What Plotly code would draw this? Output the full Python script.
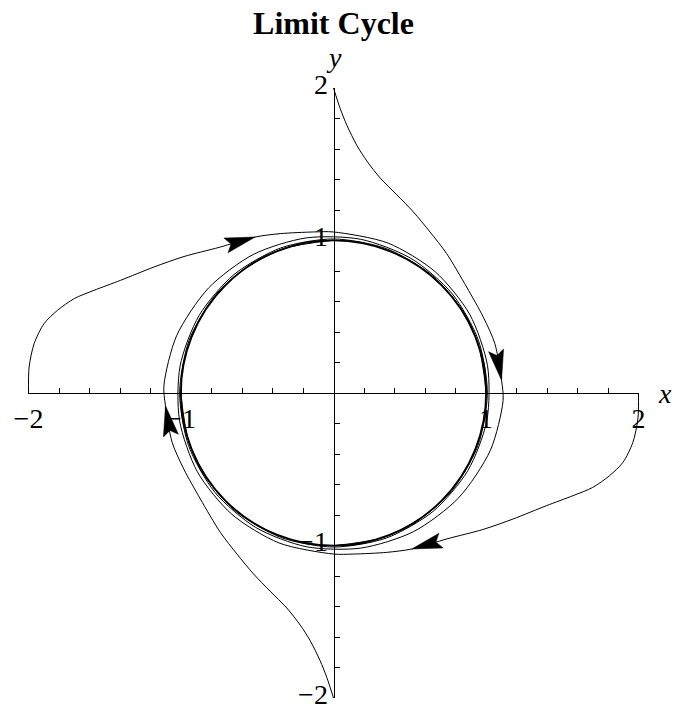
import numpy as np
import plotly.graph_objects as go

# Phase-plane trajectories (x, y), each spiralling clockwise onto the unit limit cycle
traj_top_x = [0.0, 0.044, 0.088, 0.153, 0.218, 0.306, 0.415, 0.524, 0.633, 0.742, 0.873, 0.982,
              1.058, 1.102, 1.112, 1.029, 0.820, 0.525, 0.179, -0.178, -0.509, -0.777, -0.950,
              -1.009, -0.947, -0.771, -0.503, -0.175, 0.174, 0.502, 0.768, 0.942, 1.002]
traj_top_y = [2.0, 1.865, 1.755, 1.624, 1.522, 1.410, 1.300, 1.187, 1.056, 0.914, 0.695, 0.498,
              0.324, 0.083, -0.05, -0.375, -0.688, -0.909, -1.017, -1.008, -0.882, -0.652, -0.346,
              0.0, 0.345, 0.647, 0.871, 0.990, 0.989, 0.869, 0.645, 0.343, 0.0]

traj_left_x = [-2.0, -1.996, -1.963, -1.898, -1.81, -1.70, -1.571, -1.396, -1.178, -0.98, -0.75,
               -0.513, -0.349, -0.131, 0.0, 0.358, 0.667, 0.893, 1.010, 1.006, 0.881, 0.652, 0.346,
               0.0, -0.345, -0.647, -0.871, -0.990, -0.989, -0.869, -0.645, -0.343, 0.0]
traj_left_y = [0.0, 0.17, 0.324, 0.455, 0.542, 0.619, 0.673, 0.739, 0.826, 0.895, 0.955,
               1.023, 1.045, 1.056, 1.056, 0.983, 0.795, 0.516, 0.178, -0.177, -0.509, -0.777, -0.951,
               -1.010, -0.947, -0.771, -0.503, -0.175, 0.174, 0.502, 0.768, 0.942, 1.002]

traj_right_x = [2.0, 1.996, 1.963, 1.898, 1.81, 1.70, 1.571, 1.396, 1.178, 0.98, 0.75,
                0.513, 0.349, 0.131, 0.0, -0.358, -0.667, -0.893, -1.010, -1.006, -0.881, -0.652, -0.346,
                0.0, 0.345, 0.647, 0.871, 0.990, 0.989, 0.869, 0.645, 0.343, 0.0]
traj_right_y = [0.0, -0.17, -0.324, -0.455, -0.542, -0.619, -0.673, -0.739, -0.826, -0.895, -0.955,
                -1.023, -1.045, -1.056, -1.056, -0.983, -0.795, -0.516, -0.178, 0.177, 0.509, 0.777, 0.951,
                1.010, 0.947, 0.771, 0.503, 0.175, -0.174, -0.502, -0.768, -0.942, -1.002]

traj_bottom_x = [0.0, -0.044, -0.088, -0.153, -0.218, -0.306, -0.415, -0.524, -0.633, -0.742, -0.873, -0.982,
                 -1.058, -1.102, -1.112, -1.029, -0.820, -0.525, -0.179, 0.178, 0.509, 0.777, 0.950,
                 1.009, 0.947, 0.771, 0.503, 0.175, -0.174, -0.502, -0.768, -0.942, -1.002]
traj_bottom_y = [-2.0, -1.865, -1.755, -1.624, -1.522, -1.410, -1.300, -1.187, -1.056, -0.914, -0.695, -0.498,
                 -0.324, -0.083, 0.05, 0.375, 0.688, 0.909, 1.017, 1.008, 0.882, 0.652, 0.346,
                 0.0, -0.345, -0.647, -0.871, -0.990, -0.989, -0.869, -0.645, -0.343, 0.0]

# Arrowhead tips (on each trajectory), showing the direction of motion
arrow_tip_x = [1.102, -0.513, 0.513, -1.102]
arrow_tip_y = [0.083, 1.023, -1.023, -0.083]

limit_cycle_radius = 1.0

axis_range = [-2, 2]
tick_vals = [-2, -1, 1, 2]
tick_text = ["\u22122", "\u22121", "1", "2"]
minor_vals = [round(v, 1) for v in np.arange(-2.0, 2.001, 0.2) if abs(v) > 1e-9]

SERIF = "Liberation Serif"

trajectories = [
    (traj_top_x, traj_top_y),
    (traj_left_x, traj_left_y),
    (traj_right_x, traj_right_y),
    (traj_bottom_x, traj_bottom_y),
]

fig = go.Figure()

for tx, ty in trajectories:
    fig.add_trace(go.Scatter(
        x=tx, y=ty, mode="lines",
        line=dict(color="black", width=1, shape="spline", smoothing=0.8),
        hoverinfo="skip", showlegend=False,
    ))


def arrow_polygon(tx, ty, tip, length=0.2, half_w=0.05, notch=0.035):
    pts = np.column_stack([tx, ty])
    tip = np.asarray(tip, dtype=float)
    i = int(np.argmin(np.hypot(pts[:, 0] - tip[0], pts[:, 1] - tip[1])))
    d = pts[i] - pts[max(i - 1, 0)]
    d = d / np.hypot(*d)
    n = np.array([-d[1], d[0]])
    base = tip - d * length
    p1 = base + n * half_w
    p3 = base - n * half_w
    pn = base + d * notch
    poly = np.array([p1, tip, p3, pn, p1])
    return poly[:, 0], poly[:, 1]


for (tx, ty), ax_, ay_ in zip(trajectories, arrow_tip_x, arrow_tip_y):
    px, py = arrow_polygon(tx, ty, (ax_, ay_))
    fig.add_trace(go.Scatter(
        x=px, y=py, mode="lines", fill="toself", fillcolor="black",
        line=dict(color="black", width=0.5),
        hoverinfo="skip", showlegend=False,
    ))

# The limit cycle itself
fig.add_shape(
    type="circle", xref="x", yref="y",
    x0=-limit_cycle_radius, y0=-limit_cycle_radius,
    x1=limit_cycle_radius, y1=limit_cycle_radius,
    line=dict(color="black", width=1.6),
)

axis_common = dict(
    range=axis_range,
    tickmode="array", tickvals=tick_vals, ticktext=tick_text,
    ticks="inside", ticklen=8, tickwidth=1, tickcolor="black",
    minor=dict(tickvals=minor_vals, ticks="inside", ticklen=5, tickwidth=1, tickcolor="black"),
    showline=True, linecolor="black", linewidth=1,
    showgrid=False, zeroline=False,
    tickfont=dict(family=SERIF, size=28, color="black"),
    ticklabeloverflow="allow",
    automargin=False,
    anchor="free", position=0.5,
    fixedrange=True,
)

fig.update_layout(
    width=675, height=707,
    margin=dict(l=28, r=36, t=88, b=9, autoexpand=False),
    paper_bgcolor="white", plot_bgcolor="white",
    title=dict(
        text="<b>Limit Cycle</b>",
        font=dict(family=SERIF, size=32, color="black"),
        x=0.5, xref="paper", xanchor="center",
        y=1 - 23 / 707, yref="container", yanchor="middle",
        automargin=False,
    ),
    xaxis=dict(**axis_common, side="bottom"),
    yaxis=dict(**axis_common, side="left", ticklabelshift=-4,
               scaleanchor="x", scaleratio=1),
    annotations=[
        dict(text="<i>x</i>", x=axis_range[1], y=0, xref="x", yref="y",
             xanchor="left", yanchor="middle", xshift=17, showarrow=False,
             font=dict(family=SERIF, size=28, color="black")),
        dict(text="<i>y</i>", x=0, y=axis_range[1], xref="x", yref="y",
             xanchor="center", yanchor="bottom", yshift=13, showarrow=False,
             font=dict(family=SERIF, size=28, color="black")),
    ],
)

fig.write_html("out.html")
